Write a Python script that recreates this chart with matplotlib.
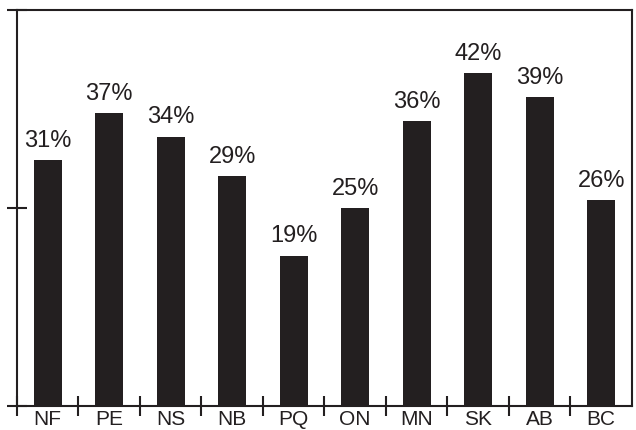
import matplotlib
matplotlib.use("Agg")
import matplotlib.pyplot as plt

# Province codes and percentages
provinces = ["NF", "PE", "NS", "NB", "PQ", "ON", "MN", "SK", "AB", "BC"]
percents = [31, 37, 34, 29, 19, 25, 36, 42, 39, 26]
y_ticks = [0, 25, 50]

ink = "#231f20"
plt.rcParams['font.family'] = ['Liberation Sans', 'DejaVu Sans']

fig = plt.figure(figsize=(6.36, 4.30), dpi=100)
ax = fig.add_axes([0.0267, 0.0558, 0.967, 0.921])

x = list(range(len(provinces)))
bars = ax.bar(x, percents, width=0.46, color=ink)

for xi, val in zip(x, percents):
    ax.annotate(f"{val}%", (xi, val), xytext=(0, 6), textcoords="offset points",
                ha="center", va="bottom", fontsize=17, color=ink)

ax.set_xlim(-0.5, len(provinces) - 0.5)
ax.set_ylim(0, 50)

# category labels sit between the boundary ticks
ax.set_xticks([i - 0.5 for i in range(len(provinces))])
ax.set_xticklabels([])
ax.set_xticks(x, minor=True)
ax.set_xticklabels(provinces, minor=True, fontsize=15, color=ink)
ax.tick_params(axis="x", which="minor", length=0, pad=3)
ax.tick_params(axis="x", which="major", direction="inout", length=14, width=1.5, color=ink)

ax.set_yticks(y_ticks)
ax.set_yticklabels([])
ax.tick_params(axis="y", direction="inout", length=14, width=1.5, color=ink)

for sp in ax.spines.values():
    sp.set_linewidth(1.5)
    sp.set_color(ink)

fig.savefig("out.png", dpi=100)
